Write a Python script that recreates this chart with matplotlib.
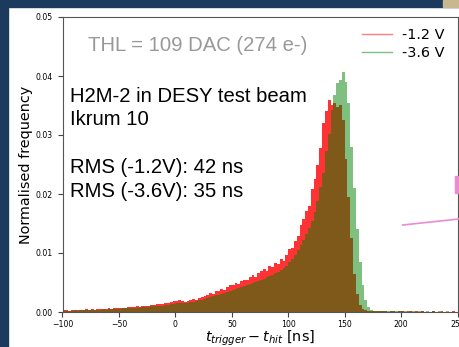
import numpy as np
import matplotlib
matplotlib.use("Agg")
import matplotlib.pyplot as plt
from matplotlib.lines import Line2D
from matplotlib.patches import Rectangle

# bin edges of the time difference histogram [ns]
t_edges = np.arange(-100, 250.1, 2.5)

# normalised frequency (x 1e-3) for each 2.5 ns bin
h_12V = [0.3, 0.35, 0.25, 0.4, 0.35, 0.3, 0.4, 0.35, 0.45, 0.4,
         0.45, 0.4, 0.5, 0.45, 0.55, 0.5, 0.6, 0.55, 0.65, 0.7,
         0.65, 0.75, 0.7, 0.85, 0.8, 0.8, 0.95, 0.9, 1.0, 1.05,
         1.1, 1.2, 1.15, 1.3, 1.35, 1.3, 1.5, 1.45, 1.7, 1.9,
         1.8, 1.95, 1.8, 1.75, 1.9, 2.0, 2.15, 2.1, 2.35, 2.5,
         2.7, 2.9, 3.2, 3.1, 3.5, 3.6, 3.9, 3.8, 4.3, 4.5,
         4.6, 4.9, 4.8, 5.3, 5.5, 5.4, 5.9, 6.2, 6.0, 6.6,
         6.9, 7.3, 7.0, 7.8, 7.6, 8.3, 8.1, 8.9, 8.7, 9.6,
         10.6, 10.9, 12.0, 12.8, 14.8, 15.8, 17.2, 18.0, 20.8, 22.5,
         25.0, 27.8, 32.0, 34.0, 36.0, 35.0, 35.5, 34.8, 35.0, 32.5,
         26.0, 19.5, 12.5, 6.5, 3.0, 1.2, 0.5, 0.3, 0.2, 0.15,
         0.12, 0.1, 0.1, 0.12, 0.1, 0.08, 0.1, 0.1, 0.08, 0.1,
         0.1, 0.08, 0.1, 0.1, 0.08, 0.1, 0.08, 0.1, 0.08, 0.08,
         0.08, 0.1, 0.08, 0.08, 0.1, 0.08, 0.08, 0.08, 0.1, 0.08]

h_36V = [0.2, 0.25, 0.2, 0.25, 0.3, 0.25, 0.3, 0.3, 0.35, 0.3,
         0.35, 0.35, 0.4, 0.4, 0.45, 0.4, 0.5, 0.45, 0.5, 0.55,
         0.55, 0.6, 0.6, 0.65, 0.7, 0.7, 0.75, 0.8, 0.8, 0.85,
         0.9, 0.95, 1.0, 1.0, 1.1, 1.1, 1.2, 1.25, 1.3, 1.4,
         1.45, 1.5, 1.5, 1.55, 1.6, 1.7, 1.75, 1.85, 1.95, 2.05,
         2.2, 2.35, 2.5, 2.65, 2.8, 2.95, 3.1, 3.25, 3.45, 3.6,
         3.75, 3.9, 4.05, 4.2, 4.4, 4.55, 4.7, 4.9, 5.05, 5.25,
         5.45, 5.65, 5.85, 6.1, 6.35, 6.6, 6.85, 7.15, 7.45, 7.8,
         8.5, 9.0, 9.7, 10.5, 11.3, 12.2, 13.2, 14.3, 15.5, 17.0,
         18.8, 21.2, 23.5, 27.3, 30.2, 34.3, 36.8, 38.8, 39.4, 40.6,
         39.0, 35.5, 28.0, 21.0, 14.0, 8.5, 4.5, 2.0, 0.8, 0.3,
         0.15, 0.12, 0.12, 0.1, 0.12, 0.1, 0.1, 0.12, 0.1, 0.1,
         0.1, 0.1, 0.08, 0.1, 0.1, 0.08, 0.1, 0.1, 0.08, 0.1,
         0.08, 0.1, 0.08, 0.1, 0.08, 0.08, 0.1, 0.08, 0.08, 0.08]

labels = ["-1.2 V", "-3.6 V"]
x_ticks = [-100, -50, 0, 50, 100, 150, 200, 250]
y_ticks = [0.0, 0.01, 0.02, 0.03, 0.04, 0.05]

W, H = 459, 347
fig = plt.figure(figsize=(W / 100, H / 100), dpi=100)
ax = fig.add_axes([62.5 / W, 1 - 312 / H, 395 / W, 295 / H])

ax.stairs(np.array(h_12V) * 1e-3, t_edges, fill=True, color="red", alpha=0.8, lw=0)
ax.stairs(np.array(h_36V) * 1e-3, t_edges, fill=True, color="green", alpha=0.5, lw=0)

ax.set_xlim(-100, 250)
ax.set_ylim(0, 0.05)
ax.set_xticks(x_ticks)
ax.set_yticks(y_ticks)
ax.tick_params(labelsize=5.6, color="#444444")
ax.tick_params(axis="x", pad=2)
for s in ax.spines.values():
    s.set_color("#555555")
    s.set_linewidth(0.8)
ax.set_xlabel(r"$t_{trigger} - t_{hit}$ [ns]", fontsize=10.4, labelpad=0)
ax.set_ylabel("Normalised frequency", fontsize=10.4, labelpad=2)

handles = [Line2D([], [], color="red", alpha=0.5, lw=1),
           Line2D([], [], color="green", alpha=0.5, lw=1)]
fig.legend(handles, labels, loc="upper left", bbox_to_anchor=(362 / W, 1 - 27.6 / H),
           frameon=False, fontsize=10.4, borderpad=0, borderaxespad=0,
           labelspacing=0.3, handlelength=2.05, handletextpad=0.75)

tf = dict(family="Liberation Sans", fontsize=14.6, va="baseline")
fig.text(87.5 / W, 1 - 50.7 / H, "THL = 109 DAC (274 e-)", color="#999999", **tf)
fig.text(70 / W, 1 - 101.7 / H, "H2M-2 in DESY test beam", **tf)
fig.text(70 / W, 1 - 125 / H, "Ikrum 10", **tf)
fig.text(70 / W, 1 - 173.3 / H, "RMS (-1.2V): 42 ns", **tf)
fig.text(70 / W, 1 - 196.7 / H, "RMS (-3.6V): 35 ns", **tf)

# slide background around the screenshot
blue = "#1b3a5e"
fig.patches.append(Rectangle((0, 0), 8 / W, 1, transform=fig.transFigure, color=blue, zorder=-1))
fig.patches.append(Rectangle((0, 1 - 7 / H), 1, 7 / H, transform=fig.transFigure, color=blue, zorder=-1))
fig.patches.append(Rectangle((443 / W, 1 - 7 / H), 16 / W, 7 / H, transform=fig.transFigure,
                             color="#c8b890", zorder=0))
# pink marks from the slide
fig.add_artist(Line2D([402.7 / W, 1.0], [1 - 225 / H, 1 - 219 / H], color="#f08ad0", lw=1.2))
fig.patches.append(Rectangle((455 / W, 1 - 193 / H), 3 / W, 17 / H, transform=fig.transFigure,
                             color="#f08ad0", zorder=3))

fig.savefig("out.png", dpi=100)
